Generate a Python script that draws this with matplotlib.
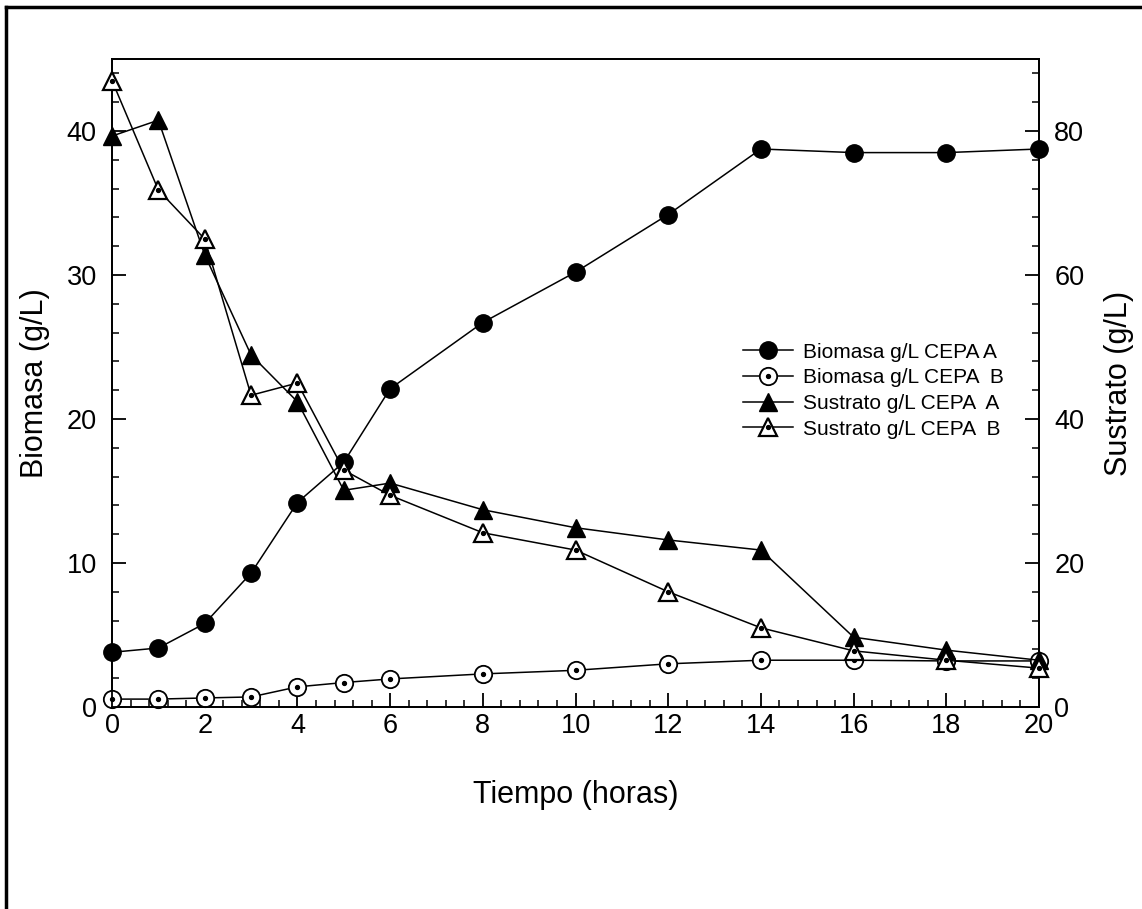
import matplotlib.pyplot as plt
from matplotlib.lines import Line2D
from matplotlib.legend_handler import HandlerTuple
from matplotlib.ticker import MultipleLocator

plt.rcParams['font.family'] = ['Liberation Sans', 'DejaVu Sans']

# datos
tiempo = [0, 1, 2, 3, 4, 5, 6, 8, 10, 12, 14, 16, 18, 20]
biomasa_a = [3.8, 4.1, 5.8, 9.3, 14.2, 17.0, 22.1, 26.7, 30.2, 34.2, 38.75, 38.5, 38.5, 38.75]
biomasa_b = [0.55, 0.55, 0.63, 0.7, 1.4, 1.7, 1.95, 2.3, 2.55, 3.0, 3.25, 3.25, 3.2, 3.2]
sustrato_a = [79.3, 81.5, 62.8, 48.9, 42.4, 30.1, 31.1, 27.4, 24.9, 23.2, 21.8, 9.7, 7.9, 6.5]
sustrato_b = [87.0, 71.8, 65.0, 43.3, 45.0, 32.9, 29.4, 24.2, 21.8, 16.0, 11.0, 7.8, 6.5, 5.4]

fig = plt.figure(figsize=(11.42, 9.09), dpi=100)
ax = fig.add_axes([0.0981, 0.2222, 0.8117, 0.7129])
ax2 = ax.twinx()

lw = 1.1
ms = 12.5

# biomasa (eje izquierdo)
ha, = ax.plot(tiempo, biomasa_a, 'o-', color='black', lw=lw, ms=ms, clip_on=False, zorder=3)
hb, = ax.plot(tiempo, biomasa_b, 'o-', color='black', lw=lw, ms=ms, mfc='white', mew=1.3,
              clip_on=False, zorder=3)
hbd, = ax.plot(tiempo, biomasa_b, 'o', color='black', ms=2.8, ls='none', clip_on=False, zorder=4)

# sustrato (eje derecho)
hsa, = ax2.plot(tiempo, sustrato_a, '^-', color='black', lw=lw, ms=ms + 0.5, clip_on=False, zorder=3)
hsb, = ax2.plot(tiempo, sustrato_b, '^-', color='black', lw=lw, ms=ms + 0.5, mfc='white', mew=1.6,
                clip_on=False, zorder=3)
hsbd, = ax2.plot(tiempo, sustrato_b, 'o', color='black', ms=2.8, ls='none', clip_on=False, zorder=4)

ax.set_xlim(0, 20)
ax.set_ylim(0, 45)
ax2.set_ylim(0, 90)

ax.xaxis.set_major_locator(MultipleLocator(2))
ax.xaxis.set_minor_locator(MultipleLocator(0.4))
ax.yaxis.set_major_locator(MultipleLocator(10))
ax.yaxis.set_minor_locator(MultipleLocator(2))
ax2.yaxis.set_major_locator(MultipleLocator(20))
ax2.yaxis.set_minor_locator(MultipleLocator(4))

for a in (ax, ax2):
    a.tick_params(which='major', direction='in', length=10, width=1.3, labelsize=19.5, pad=11)
    a.tick_params(which='minor', direction='in', length=5, width=1.1)
    for s in a.spines.values():
        s.set_linewidth(1.3)
ax.tick_params(axis='y', right=False, which='both')
ax.tick_params(axis='x', which='major', pad=4)

ax.set_xlabel('Tiempo (horas)', fontsize=22, labelpad=30)
ax.set_ylabel('Biomasa (g/L)', fontsize=22, labelpad=12)
ax2.set_ylabel('Sustrato (g/L)', fontsize=22, labelpad=14)

ax2.legend([ha, (hb, hbd), hsa, (hsb, hsbd)],
           ['Biomasa g/L CEPA A', 'Biomasa g/L CEPA  B', 'Sustrato g/L CEPA  A', 'Sustrato g/L CEPA  B'],
           handler_map={tuple: HandlerTuple(ndivide=1)},
           loc='upper left', bbox_to_anchor=(0.66, 0.591), frameon=False, fontsize=15,
           handlelength=2.4, handletextpad=0.5, labelspacing=0.32, markerscale=1.0)

# marco de la figura (solo arriba e izquierda)
fig.add_artist(Line2D([0.005, 1.0], [0.9925, 0.9925], transform=fig.transFigure, color='black', lw=2.5))
fig.add_artist(Line2D([0.005, 0.005], [0.0, 0.9925], transform=fig.transFigure, color='black', lw=2.5))

fig.savefig('out.png', dpi=100)
